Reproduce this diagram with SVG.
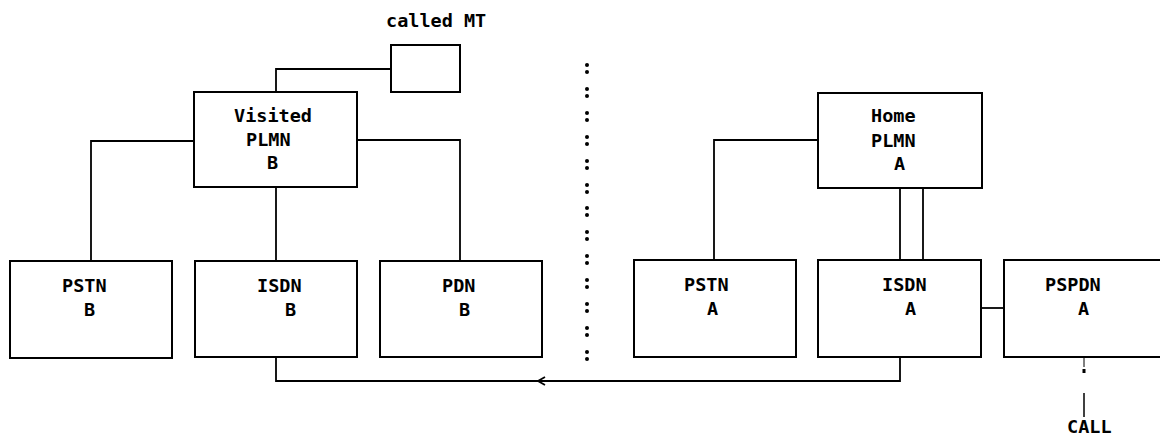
<svg xmlns="http://www.w3.org/2000/svg" width="1160" height="435" viewBox="0 0 1160 435">
<style>
.box{fill:#fff;stroke:#000;stroke-width:2}
.ln{fill:none;stroke:#000;stroke-width:1.8}
.t{font-family:"DejaVu Sans Mono","Liberation Mono",monospace;font-weight:bold;font-size:18.5px;fill:#000}
.dot{fill:#000}
</style>
<rect width="1160" height="435" fill="#fff"/>
<g id="connectors">
<polyline class="ln" points="391,69 276,69 276,92"/>
<polyline class="ln" points="194,141 91,141 91,260"/>
<polyline class="ln" points="357,140 460,140 460,260"/>
<line class="ln" x1="276" y1="187" x2="276" y2="260"/>
<polyline class="ln" points="818,140 714,140 714,260"/>
<line class="ln" x1="900" y1="188" x2="900" y2="260"/>
<line class="ln" x1="923" y1="188" x2="923" y2="260"/>
<line class="ln" x1="981" y1="308" x2="1004" y2="308"/>
<polyline class="ln" points="276,357 276,381 900,381 900,357"/>
<polyline class="ln" points="545,377 538,381 545,385"/>
<line x1="1084" y1="357" x2="1084" y2="367" stroke="#000" stroke-width="1"/>
<rect x="1082.5" y="369" width="3" height="4" fill="#000"/>
<line x1="1084" y1="393" x2="1084" y2="417" stroke="#000" stroke-width="1.5"/>
</g>
<g id="separator">
<circle class="dot" cx="587" cy="65" r="2"/><circle class="dot" cx="587" cy="72" r="2"/>
<circle class="dot" cx="587" cy="89" r="2"/><circle class="dot" cx="587" cy="96" r="2"/>
<circle class="dot" cx="587" cy="113" r="2"/><circle class="dot" cx="587" cy="120" r="2"/>
<circle class="dot" cx="587" cy="137" r="2"/><circle class="dot" cx="587" cy="144" r="2"/>
<circle class="dot" cx="587" cy="161" r="2"/><circle class="dot" cx="587" cy="168" r="2"/>
<circle class="dot" cx="587" cy="185" r="2"/><circle class="dot" cx="587" cy="192" r="2"/>
<circle class="dot" cx="587" cy="208" r="2"/><circle class="dot" cx="587" cy="215" r="2"/>
<circle class="dot" cx="587" cy="232" r="2"/><circle class="dot" cx="587" cy="239" r="2"/>
<circle class="dot" cx="587" cy="256" r="2"/><circle class="dot" cx="587" cy="263" r="2"/>
<circle class="dot" cx="587" cy="280" r="2"/><circle class="dot" cx="587" cy="287" r="2"/>
<circle class="dot" cx="587" cy="304" r="2"/><circle class="dot" cx="587" cy="311" r="2"/>
<circle class="dot" cx="587" cy="328" r="2"/><circle class="dot" cx="587" cy="335" r="2"/>
<circle class="dot" cx="587" cy="352" r="2"/><circle class="dot" cx="587" cy="359" r="2"/>
</g>
<g id="calledMT">
<rect class="box" x="391" y="45" width="69" height="47"/>
<text class="t" x="386" y="27">called MT</text>
</g>
<g id="visitedPLMN">
<rect class="box" x="194" y="92" width="163" height="95"/>
<text class="t" x="234" y="122">Visited</text>
<text class="t" x="246" y="146">PLMN</text>
<text class="t" x="267" y="169">B</text>
</g>
<g id="pstnB">
<rect class="box" x="10" y="261" width="162" height="97"/>
<text class="t" x="62" y="292">PSTN</text>
<text class="t" x="84" y="316">B</text>
</g>
<g id="isdnB">
<rect class="box" x="195" y="261" width="162" height="96"/>
<text class="t" x="257" y="292">ISDN</text>
<text class="t" x="285" y="316">B</text>
</g>
<g id="pdnB">
<rect class="box" x="380" y="261" width="162" height="96"/>
<text class="t" x="442" y="292">PDN</text>
<text class="t" x="459" y="316">B</text>
</g>
<g id="homePLMN">
<rect class="box" x="818" y="93" width="164" height="95"/>
<text class="t" x="871" y="122">Home</text>
<text class="t" x="871" y="147">PLMN</text>
<text class="t" x="894" y="170">A</text>
</g>
<g id="pstnA">
<rect class="box" x="634" y="260" width="162" height="97"/>
<text class="t" x="684" y="291">PSTN</text>
<text class="t" x="707" y="315">A</text>
</g>
<g id="isdnA">
<rect class="box" x="818" y="260" width="163" height="97"/>
<text class="t" x="882" y="291">ISDN</text>
<text class="t" x="905" y="315">A</text>
</g>
<g id="pspdnA">
<rect class="box" x="1004" y="260" width="170" height="97"/>
<text class="t" x="1045" y="291">PSPDN</text>
<text class="t" x="1078" y="315">A</text>
</g>
<g id="call">
<text class="t" x="1067" y="433">CALL</text>
</g>
</svg>
